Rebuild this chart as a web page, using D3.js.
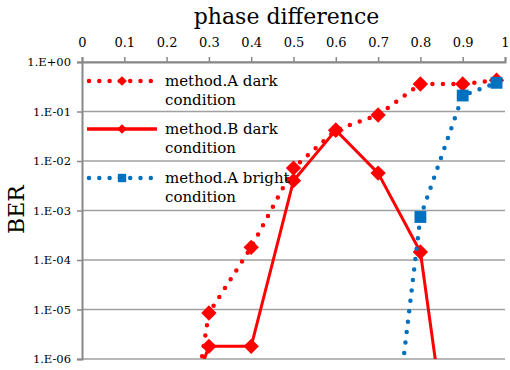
<!DOCTYPE html>
<html>
<head>
<meta charset="utf-8">
<script src="https://cdn.jsdelivr.net/npm/d3@7"></script>
<style>
  body { margin: 0; background: #fff; }
  text { font-family: "DejaVu Serif", serif; fill: #000; }
</style>
</head>
<body>
<div id="chart"></div>
<script>
// chart data
var seriesNames = ["method.A dark", "method.B dark", "method.A bright"];
var phaseADark = [0.28, 0.3, 0.4, 0.5, 0.6, 0.7, 0.8, 0.9, 0.98];
var berADark = [7e-7, 8.5e-6, 1.8e-4, 7.2e-3, 4.2e-2, 8.5e-2, 0.36, 0.36, 0.43];
var phaseBDark = [0.28, 0.3, 0.4, 0.5, 0.6, 0.7, 0.8, 0.9];
var berBDark = [6e-7, 1.8e-6, 1.8e-6, 4e-3, 4.2e-2, 5.7e-3, 1.45e-4, 1e-10];
var phaseABright = [0.7, 0.8, 0.9, 0.98];
var berABright = [5e-11, 7.4e-4, 0.21, 0.38];
var xTicks = [0, 0.1, 0.2, 0.3, 0.4, 0.5, 0.6, 0.7, 0.8, 0.9, 1];
var yTicks = [1, 1e-1, 1e-2, 1e-3, 1e-4, 1e-5, 1e-6];
var yTickLabels = ["1.E+00", "1.E-01", "1.E-02", "1.E-03", "1.E-04", "1.E-05", "1.E-06"];

var margin = {top: 62, right: 5, bottom: 11, left: 82},
    width = 510 - margin.left - margin.right,
    height = 370 - margin.top - margin.bottom;

var red = "#ff0000", blue = "#0070c0";

var svg = d3.select("#chart")
  .append("svg")
    .attr("width", 510)
    .attr("height", 370)
  .append("g")
    .attr("transform", "translate(" + margin.left + "," + margin.top + ")");

var x = d3.scaleLinear().domain([0, 1]).range([0, width]);
var y = d3.scaleLog().domain([1e-6, 1]).range([height, 0]);

svg.append("clipPath").attr("id", "plotclip")
  .append("rect").attr("x", -1).attr("y", -10).attr("width", width + 12).attr("height", height + 10);

// gridlines
svg.selectAll(".grid")
  .data(yTicks)
  .enter().append("line")
    .attr("x1", 0).attr("x2", width)
    .attr("y1", function(d) { return y(d); })
    .attr("y2", function(d) { return y(d); })
    .attr("stroke", "#a0a0a0")
    .attr("stroke-width", 1.5);

// top x axis
var xAxis = svg.append("g")
  .call(d3.axisTop(x).tickValues(xTicks).tickSize(5).tickPadding(10)
    .tickFormat(function(d) { return d === 0 || d === 1 ? d3.format("d")(d) : d3.format(".1f")(d); }));
xAxis.select(".domain").attr("stroke", "#888").attr("stroke-width", 2);
xAxis.selectAll(".tick line").attr("stroke", "#888").attr("stroke-width", 1.5);
xAxis.selectAll(".tick text").style("font-size", "13px").style("font-family", "DejaVu Serif");

// left y axis
var yAxis = svg.append("g")
  .call(d3.axisLeft(y).tickValues(yTicks).tickSize(5).tickPadding(6)
    .tickFormat(function(d, i) { return yTickLabels[i]; }));
yAxis.select(".domain").attr("stroke", "#888").attr("stroke-width", 2);
yAxis.selectAll(".tick line").attr("stroke", "#888").attr("stroke-width", 1.5);
yAxis.selectAll(".tick text").style("font-size", "11.5px").style("font-family", "DejaVu Serif");

// axis titles
svg.append("text")
  .attr("x", width / 2 - 7)
  .attr("y", -38)
  .attr("text-anchor", "middle")
  .style("font-size", "22px")
  .text("phase difference");

svg.append("text")
  .attr("transform", "translate(-58," + (height / 2 - 1) + ") rotate(-90)")
  .attr("text-anchor", "middle")
  .style("font-size", "22px")
  .text("BER");

var line = d3.line()
  .x(function(d) { return x(d[0]); })
  .y(function(d) { return y(d[1]); });

var diamond = d3.symbol().type(d3.symbolDiamond2);
var square = d3.symbol().type(d3.symbolSquare);

var plot = svg.append("g").attr("clip-path", "url(#plotclip)");

function drawSeries(xs, ys, color, dotted, symbol, size) {
  var pts = xs.map(function(d, i) { return [d, ys[i]]; });
  plot.append("path")
    .datum(pts)
    .attr("d", line)
    .attr("fill", "none")
    .attr("stroke", color)
    .attr("stroke-width", dotted ? 4.5 : 3)
    .attr("stroke-linecap", dotted ? "round" : "butt")
    .attr("stroke-dasharray", dotted ? "0 10.5" : null);
  plot.selectAll(null)
    .data(pts.filter(function(d) { return d[1] >= 1e-6; }))
    .enter().append("path")
      .attr("d", symbol.size(size))
      .attr("transform", function(d) { return "translate(" + x(d[0]) + "," + y(d[1]) + ")"; })
      .attr("fill", color);
}

drawSeries(phaseADark, berADark, red, true, diamond, 150);
drawSeries(phaseBDark, berBDark, red, false, diamond, 150);
drawSeries(phaseABright, berABright, blue, true, square, 140);

// legend (no box, gridlines show through)
var legendY = [19, 67, 116];
var legendStyle = [
  {color: red, dotted: true, symbol: d3.symbol().type(d3.symbolDiamond2).size(60)},
  {color: red, dotted: false, symbol: d3.symbol().type(d3.symbolDiamond2).size(60)},
  {color: blue, dotted: true, symbol: d3.symbol().type(d3.symbolSquare).size(70)}
];

seriesNames.forEach(function(name, i) {
  var g = svg.append("g").attr("transform", "translate(0," + legendY[i] + ")");
  var st = legendStyle[i];
  g.append("line")
    .attr("x1", st.dotted ? 7 : 5).attr("x2", st.dotted ? 70 : 75)
    .attr("y1", 0).attr("y2", 0)
    .attr("stroke", st.color)
    .attr("stroke-width", st.dotted ? 4.5 : 3.5)
    .attr("stroke-linecap", st.dotted ? "round" : "butt")
    .attr("stroke-dasharray", st.dotted ? "0 10.3" : null);
  g.append("path")
    .attr("d", st.symbol)
    .attr("transform", "translate(40,0)")
    .attr("fill", st.color);
  g.append("text")
    .attr("x", 83).attr("y", 5)
    .style("font-size", "15px")
    .text(name);
  g.append("text")
    .attr("x", 83).attr("y", 24)
    .style("font-size", "15px")
    .text("condition");
});
</script>
</body>
</html>
